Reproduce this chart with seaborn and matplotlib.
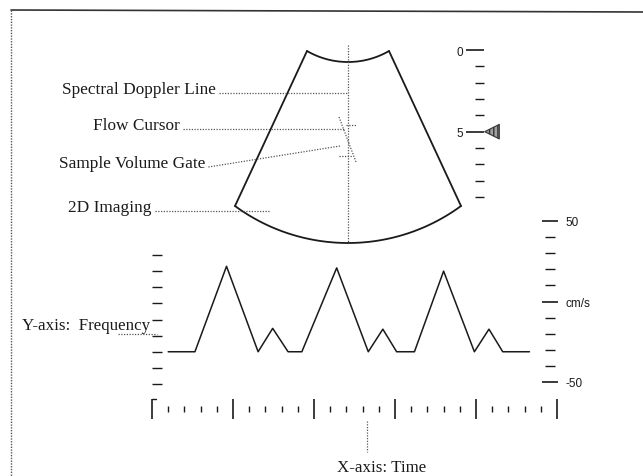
import numpy as np
import matplotlib
matplotlib.use("Agg")
import matplotlib.pyplot as plt
from matplotlib.ticker import FixedLocator, FixedFormatter, NullFormatter
import seaborn as sns

# spectral trace: time in scale divisions, frequency in left-scale divisions
wave_time = [1.0, 2.65, 4.6, 6.55, 7.45, 8.4, 9.25, 11.4, 13.35, 14.25, 15.1,
             16.2, 18.0, 19.9, 20.8, 21.65, 23.3]
wave_freq = [0, 0, 5.3, 0, 1.45, 0, 0, 5.2, 0, 1.4, 0, 0, 5.0, 0, 1.4, 0, 0]

time_major = [0, 5, 10, 15, 20, 25]
time_minor = [1, 2, 3, 4, 6, 7, 8, 9, 11, 12, 13, 14, 16, 17, 18, 19, 21, 22, 23, 24]
freq_ticks = [-2, -1, 0, 1, 2, 3, 4, 5, 6]

depth_major = [0, 5]
depth_labels = ["0", "5"]
depth_minor = [1, 2, 3, 4, 6, 7, 8, 9]
gate_depth = 5

velocity_major = [-50, 0, 50]
velocity_labels = ["-50", "cm/s", "50"]
velocity_minor = [-40, -30, -20, -10, 10, 20, 30, 40]

callouts = ["Spectral Doppler Line", "Flow Cursor", "Sample Volume Gate", "2D Imaging"]
callout_x = [62, 93, 59, 68]
callout_y = [94, 130, 168, 212]
leader_end_x = [348, 345, 340, 270]
leader_end_y = [94, 130, 147, 212]

W, H = 643, 477
SERIF = "Liberation Serif"
SANS = "Liberation Sans"
INK = "#1a1a1a"
DOT = "#555555"

sns.set_style("white")
plt.rcParams["font.family"] = [SERIF, "DejaVu Serif"]

fig = plt.figure(figsize=(W / 100, H / 100), dpi=100)
ax = fig.add_axes([0, 0, 1, 1])
ax.set_xlim(0, W)
ax.set_ylim(H, 0)
ax.axis("off")


def px_axes(x0, y0, x1, y1):
    a = fig.add_axes([x0 / W, 1 - y1 / H, (x1 - x0) / W, (y1 - y0) / H])
    a.patch.set_alpha(0)
    for s in a.spines.values():
        s.set_visible(False)
    return a


def arc(cx, half, y_end, y_mid, n=60):
    sag = y_mid - y_end
    r = (half ** 2 + sag ** 2) / (2 * sag)
    th = np.linspace(-np.arcsin(half / r), np.arcsin(half / r), n)
    return cx + r * np.sin(th), (y_mid - r) + r * np.cos(th)


# frame
ax.plot([11, W], [11, 13], color="#333333", lw=1.2)
ax.plot([11, 11], [11, H], color=DOT, lw=1.0, ls=(0, (1, 1)))

# 2D sector
cx = 348
tx, ty = arc(cx, 41, 52, 63)
bx, by = arc(cx, 113, 207, 244)
ax.plot(tx, ty, color=INK, lw=1.3)
ax.plot(bx, by, color=INK, lw=1.3)
ax.plot([tx[0], bx[0]], [ty[0], by[0]], color=INK, lw=1.3)
ax.plot([tx[-1], bx[-1]], [ty[-1], by[-1]], color=INK, lw=1.3)
ax.plot([cx, cx], [46, 244], color=DOT, lw=0.9, ls=(0, (1, 1.2)))

# flow cursor and sample gate
ax.plot([339, 356], [118, 163], color=DOT, lw=0.9, ls=(0, (1, 1.2)))
ax.plot([346, 357], [126, 126], color=DOT, lw=0.9, ls=(0, (1, 1.2)))
ax.plot([339, 352], [157, 157], color=DOT, lw=0.9, ls=(0, (1, 1.2)))

# callouts
for txt, x, y, ex, ey in zip(callouts, callout_x, callout_y, leader_end_x, leader_end_y):
    t = ax.text(x, y, txt, fontsize=12.4, ha="left", va="baseline", color=INK)
    fig.canvas.draw()
    bb = t.get_window_extent().transformed(ax.transData.inverted())
    ax.plot([bb.x1 + 3, ex], [y, ey], color=DOT, lw=0.9, ls=(0, (1, 1.2)))

ax.text(22, 330, "Y-axis:  Frequency", fontsize=12.2, ha="left", va="baseline", color=INK)
ax.plot([118, 157], [335, 335], color=DOT, lw=0.9, ls=(0, (1, 1.2)))
ax.text(382, 472, "X-axis: Time", fontsize=12.2, ha="center", va="baseline", color=INK)
ax.plot([367, 367], [422, 453], color=DOT, lw=0.9, ls=(0, (1, 1.2)))
ax.plot([152, 156], [400, 400], color=INK, lw=1.0)

# spectral waveform
ax_w = px_axes(152, 256, 557, 385)
sns.lineplot(x=wave_time, y=wave_freq, ax=ax_w, color=INK, lw=1.1,
             sort=False, estimator=None)
ax_w.set_xlim(0, 25)
ax_w.set_ylim(-2, 6)
ax_w.yaxis.set_major_locator(FixedLocator(freq_ticks))
ax_w.tick_params(axis="y", direction="in", length=7.2, width=1.0, color=INK,
                 left=True, labelleft=False)
ax_w.spines["bottom"].set_position(("outward", 18))
ax_w.xaxis.set_major_locator(FixedLocator(time_major))
ax_w.xaxis.set_minor_locator(FixedLocator(time_minor))
ax_w.xaxis.set_major_formatter(NullFormatter())
ax_w.tick_params(axis="x", which="major", direction="inout", length=14.4,
                 width=1.2, color=INK, bottom=True)
ax_w.tick_params(axis="x", which="minor", direction="inout", length=5,
                 width=1.0, color=INK, bottom=True)
ax_w.set_xlabel("")
ax_w.set_ylabel("")

# velocity scale
ax_v = px_axes(500, 222, 549.5, 383)
ax_v.set_ylim(-50, 50)
ax_v.set_xticks([])
ax_v.yaxis.tick_right()
ax_v.yaxis.set_major_locator(FixedLocator(velocity_major))
ax_v.yaxis.set_major_formatter(FixedFormatter(velocity_labels))
ax_v.yaxis.set_minor_locator(FixedLocator(velocity_minor))
ax_v.tick_params(axis="y", which="major", direction="inout", length=12.2,
                 width=1.2, pad=5.5, labelsize=8.5, color=INK, labelcolor=INK)
ax_v.tick_params(axis="y", which="minor", direction="inout", length=6.5,
                 width=1.0, color=INK)
for lab in ax_v.get_yticklabels():
    lab.set_family(SANS)

# depth scale
ax_d = px_axes(484, 51, 500, 198)
ax_d.set_ylim(9, 0)
ax_d.set_xlim(0, 1)
ax_d.set_xticks([])
ax_d.yaxis.set_major_locator(FixedLocator(depth_major))
ax_d.yaxis.set_major_formatter(FixedFormatter(depth_labels))
ax_d.yaxis.set_minor_locator(FixedLocator(depth_minor))
ax_d.tick_params(axis="y", which="major", direction="out", length=13,
                 width=1.2, pad=2, labelsize=8.5, color=INK, labelcolor=INK,
                 left=True)
ax_d.tick_params(axis="y", which="minor", direction="out", length=6.5,
                 width=1.0, color=INK, left=True)
for lab in ax_d.get_yticklabels():
    lab.set_family(SANS)
ax_d.scatter([0.5], [gate_depth], marker="<", s=110, facecolor="#a0a0a0",
             edgecolor="#333333", linewidth=0.8, hatch="||||", clip_on=False)

fig.savefig("out.png", dpi=100, facecolor="white")
